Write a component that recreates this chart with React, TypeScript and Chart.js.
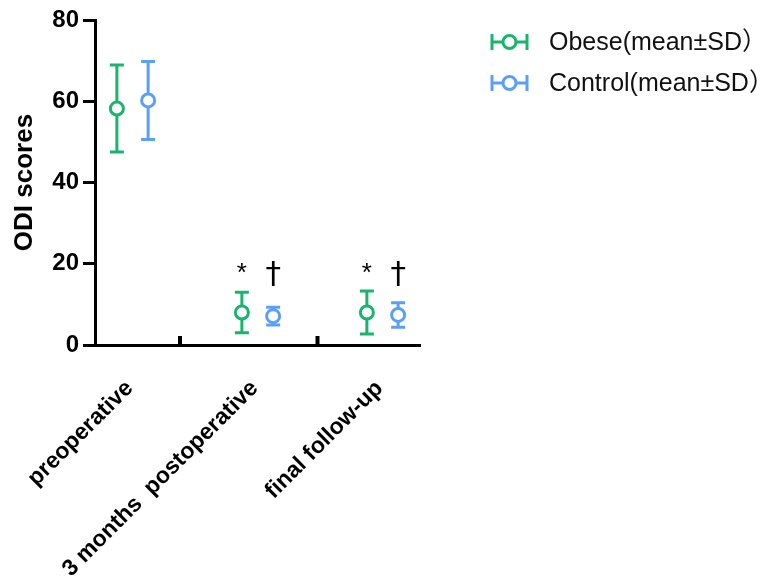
import React, { useEffect, useRef } from "react";
import { Chart, registerables } from "chart.js";

Chart.register(...registerables);

const categories = ["preoperative", "3 months  postoperative", "final follow-up"];
const obeseMean = [58.2, 8.0, 8.0];
const obeseSD = [10.7, 5.0, 5.3];
const controlMean = [60.2, 7.1, 7.4];
const controlSD = [9.6, 2.2, 3.0];
const obeseMarks = ["", "*", "*"];
const controlMarks = ["", "†", "†"];
const yTicks = [0, 20, 40, 60, 80];

const GREEN = "#19b46e";
const BLUE = "#5aa0f8";
const groupPos = [3, 13, 23];
const offset = 1.25;
const boundaryTicks = [6.8, 17.8];

const errorBarPlugin = {
  id: "errorBars",
  beforeDatasetsDraw(chart: any) {
    const { ctx, scales } = chart;
    const xs = scales.x;
    const ys = scales.y;
    chart.data.datasets.forEach((ds: any) => {
      ctx.save();
      ctx.strokeStyle = ds.borderColor;
      ctx.lineWidth = 3;
      ds.data.forEach((p: any, i: number) => {
        const sd = ds.sd[i];
        const x = xs.getPixelForValue(p.x);
        const yt = ys.getPixelForValue(p.y + sd);
        const yb = ys.getPixelForValue(p.y - sd);
        ctx.beginPath();
        ctx.moveTo(x, yt);
        ctx.lineTo(x, yb);
        ctx.moveTo(x - 7, yt);
        ctx.lineTo(x + 7, yt);
        ctx.moveTo(x - 7, yb);
        ctx.lineTo(x + 7, yb);
        ctx.stroke();
      });
      ctx.restore();
    });
  },
  afterDatasetsDraw(chart: any) {
    const { ctx, scales } = chart;
    const xs = scales.x;
    const ys = scales.y;
    ctx.save();
    ctx.fillStyle = "#000";
    ctx.textAlign = "center";
    ctx.textBaseline = "middle";
    chart.data.datasets.forEach((ds: any) => {
      ds.data.forEach((p: any, i: number) => {
        const m = ds.marks[i];
        if (!m) return;
        const x = xs.getPixelForValue(p.x);
        if (m === "*") {
          ctx.font = "26px 'Liberation Sans', Arial, sans-serif";
          ctx.fillText(m, x, ys.getPixelForValue(17.6));
        } else {
          ctx.font = "31px 'DejaVu Sans', sans-serif";
          ctx.fillText(m, x, ys.getPixelForValue(17.3));
        }
      });
    });
    // boundary tick marks on x axis
    ctx.fillStyle = "#000";
    boundaryTicks.forEach((v) => {
      const x = xs.getPixelForValue(v);
      ctx.fillRect(x - 2, ys.bottom - 9, 4, 9);
    });
    // legend
    const items = [
      { color: GREEN, text: "Obese(mean±SD）" },
      { color: BLUE, text: "Control(mean±SD）" },
    ];
    items.forEach((it, k) => {
      const cy = 42 + k * 41;
      const x0 = 492;
      const x1 = 527;
      ctx.strokeStyle = it.color;
      ctx.lineWidth = 3;
      ctx.beginPath();
      ctx.moveTo(x0, cy);
      ctx.lineTo(x1, cy);
      ctx.moveTo(x0, cy - 8);
      ctx.lineTo(x0, cy + 8);
      ctx.moveTo(x1, cy - 8);
      ctx.lineTo(x1, cy + 8);
      ctx.stroke();
      ctx.fillStyle = "#fff";
      ctx.beginPath();
      ctx.arc((x0 + x1) / 2, cy, 6.5, 0, Math.PI * 2);
      ctx.fill();
      ctx.stroke();
      ctx.fillStyle = "#111";
      ctx.textAlign = "left";
      ctx.textBaseline = "middle";
      ctx.font = "25px 'Liberation Sans', Arial, 'Noto Sans CJK SC', sans-serif";
      ctx.fillText(it.text, 549, cy + 1);
    });
    ctx.restore();
  },
};

export default function App() {
  const ref = useRef<HTMLCanvasElement>(null);
  useEffect(() => {
    if (!ref.current) return;
    const mk = (means: number[], sign: number) =>
      means.map((m, i) => ({ x: groupPos[i] + sign * offset, y: m }));
    const chart = new Chart(ref.current, {
      type: "scatter",
      data: {
        datasets: [
          {
            label: "Obese(mean±SD）",
            data: mk(obeseMean, -1),
            borderColor: GREEN,
            backgroundColor: "#fff",
            pointRadius: 6.5,
            pointBorderWidth: 3,
            sd: obeseSD,
            marks: obeseMarks,
          } as any,
          {
            label: "Control(mean±SD）",
            data: mk(controlMean, 1),
            borderColor: BLUE,
            backgroundColor: "#fff",
            pointRadius: 6.5,
            pointBorderWidth: 3,
            sd: controlSD,
            marks: controlMarks,
          } as any,
        ],
      },
      options: {
        animation: false,
        responsive: false,
        layout: { padding: { left: 9, top: 20, right: 354, bottom: 0 } },
        plugins: { legend: { display: false }, tooltip: { enabled: false } },
        scales: {
          x: {
            type: "linear",
            min: 0,
            max: 26,
            grid: { display: false, drawTicks: false },
            border: { display: true, color: "#000", width: 3 },
            afterBuildTicks: (s: any) => {
              s.ticks = groupPos.map((v) => ({ value: v }));
            },
            afterFit: (s: any) => {
              s.height = 237;
              s.paddingLeft = 0;
              s.paddingRight = 0;
            },
            ticks: {
              autoSkip: false,
              minRotation: 45,
              maxRotation: 45,
              padding: 30,
              labelOffset: -3,
              color: "#000",
              font: { family: "'Liberation Sans', Arial, sans-serif", size: 23, weight: "bold" },
              callback: (_v: any, i: number) => categories[i],
            },
          },
          y: {
            min: 0,
            max: 80,
            afterBuildTicks: (s: any) => {
              s.ticks = yTicks.map((v) => ({ value: v }));
            },
            afterFit: (s: any) => {
              s.width = 86;
              s.paddingTop = 0;
              s.paddingBottom = 0;
            },
            grid: {
              drawOnChartArea: false,
              drawTicks: true,
              tickLength: 12,
              color: "#000",
              lineWidth: 3,
            },
            border: { display: true, color: "#000", width: 3 },
            title: {
              display: true,
              text: "ODI scores",
              color: "#000",
              padding: { top: 0, bottom: 6 },
              font: { family: "'Liberation Sans', Arial, sans-serif", size: 26, weight: "bold" },
            },
            ticks: {
              color: "#000",
              padding: 4,
              font: { family: "'Liberation Sans', Arial, sans-serif", size: 24, weight: "bold" },
            },
          },
        },
      },
      plugins: [errorBarPlugin],
    } as any);
    return () => chart.destroy();
  }, []);
  return (
    <div style={{ position: "fixed", left: 0, top: 0, width: 774, height: 582, background: "#fff" }}>
      <canvas ref={ref} width={774} height={582} style={{ width: 774, height: 582 }} />
    </div>
  );
}
